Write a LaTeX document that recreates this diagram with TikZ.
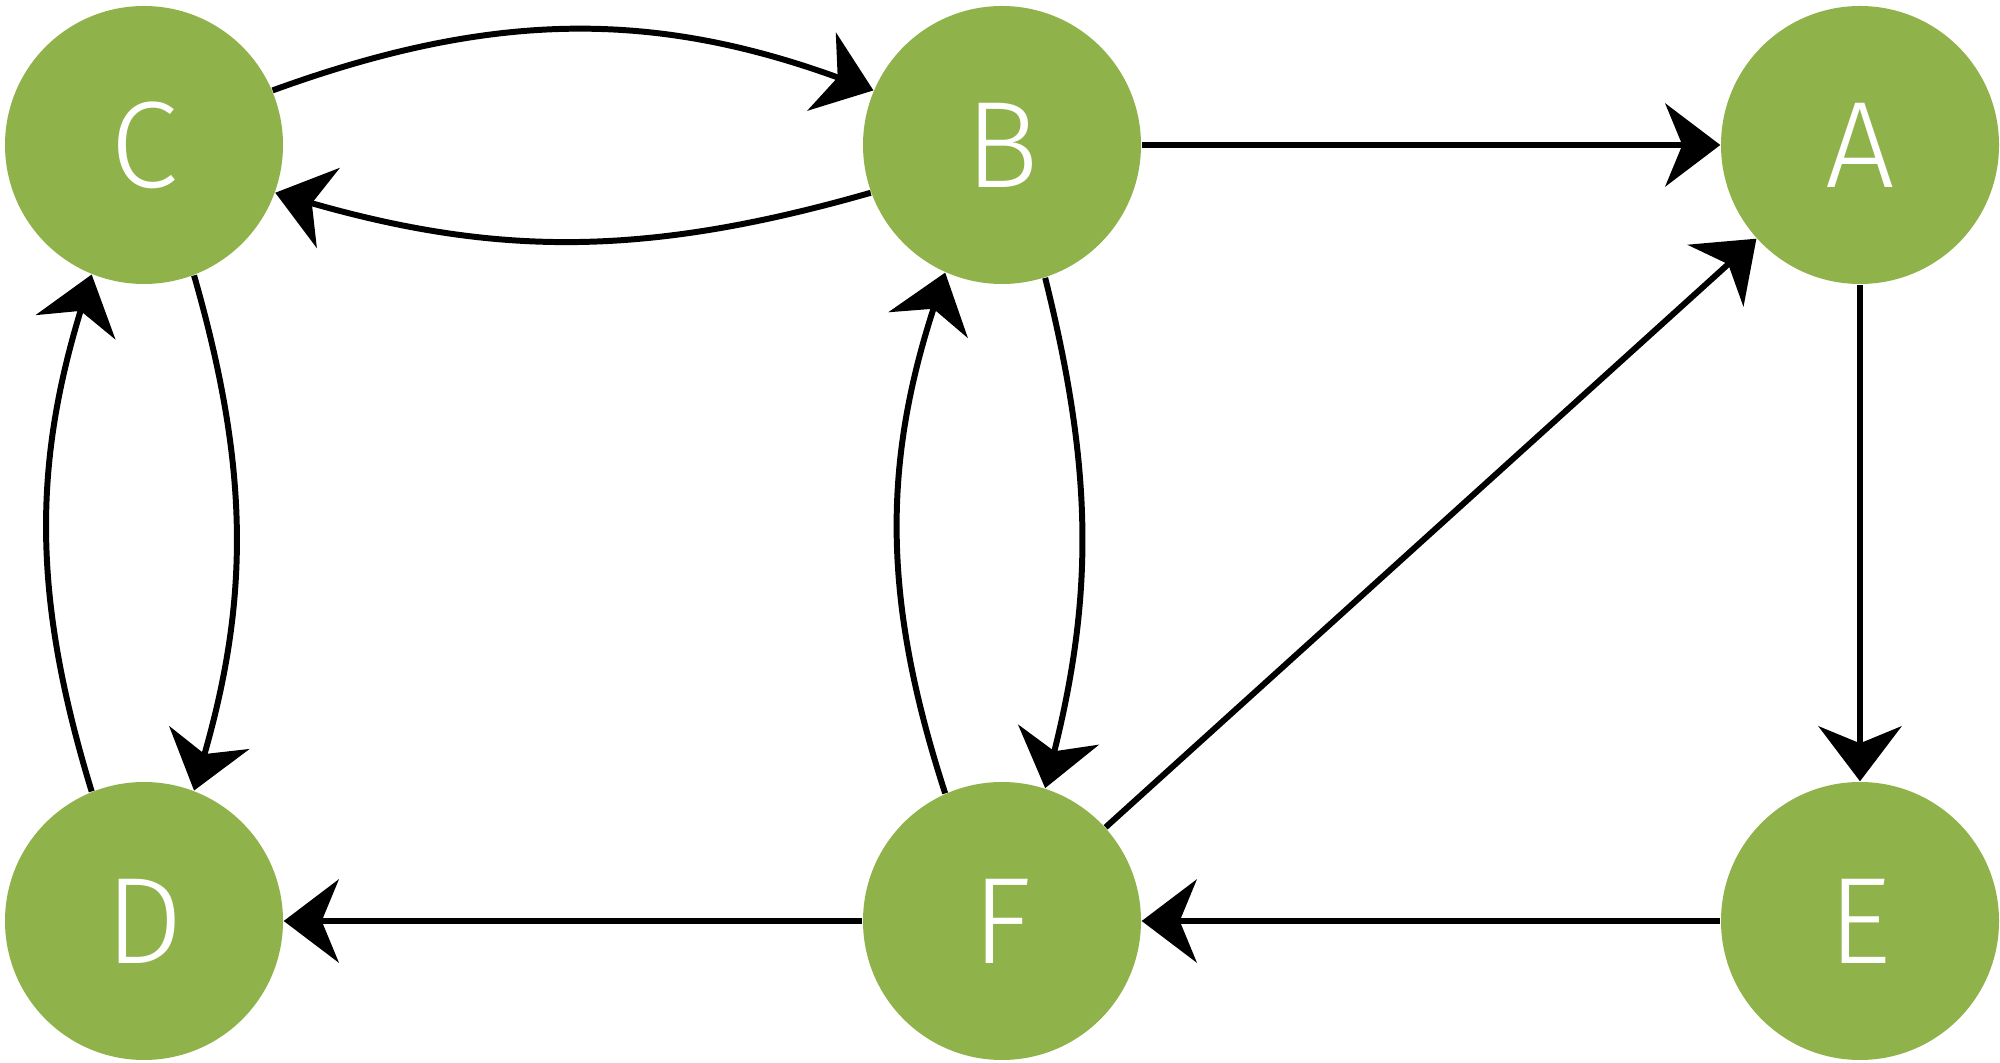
\documentclass[tikz,border=0pt]{standalone}
\usepackage{fontspec}
\setmainfont{Fira Sans Light}
\usepackage{xcolor}
\usepackage{tikz}
\usetikzlibrary{arrows.meta}
\definecolor{leaf}{HTML}{8FB34A}
\definecolor{ink}{HTML}{000000}

\begin{document}
\begin{tikzpicture}[
    vertex/.style={circle, fill=leaf, minimum size=2.78cm, inner sep=0pt, text=white, font=\fontsize{35}{40}\selectfont},
    link/.style={ink, line width=1.7pt, -{Stealth[length=5.5mm, width=8.3mm, inset=1.7mm]}},
    bentlink/.style={link, bend left=#1}
  ]
    \useasboundingbox (0,0) rectangle (20,10.62);
    \node[vertex] (c) at (1.44,9.17) {C};
    \node[vertex] (b) at (10.02,9.17) {B};
    \node[vertex] (a) at (18.60,9.17) {A};
    \node[vertex] (d) at (1.44,1.41) {D};
    \node[vertex] (f) at (10.02,1.41) {F};
    \node[vertex] (e) at (18.60,1.41) {E};
    \draw[link] (b) -- (a);
    \draw[link] (a) -- (e);
    \draw[link] (e) -- (f);
    \draw[link] (f) -- (d);
    \draw[link] (f) -- (a);
    \draw[bentlink=20] (c.23) to (b.157);
    \draw[bentlink=16] (b.200) to (c.-20);
    \draw[bentlink=17] (d.112) to (c.248);
    \draw[bentlink=16] (c.-69) to (d.69);
    \draw[bentlink=18] (f.114) to (b.246);
    \draw[bentlink=14] (b.-72) to (f.72);
  \end{tikzpicture}
\end{document}
